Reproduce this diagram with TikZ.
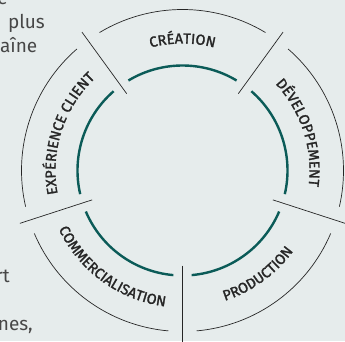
\documentclass[tikz,border=0pt]{standalone}
\usepackage{fontspec}
\setmainfont{Fira Sans}
\newfontfamily\stagefam{Fira Sans}[FakeBold=1.6]
\usetikzlibrary{decorations.text}
\definecolor{bgcol}{HTML}{E6ECEC}
\definecolor{ringcol}{HTML}{0B5B58}
\definecolor{inkcol}{HTML}{262626}
\newcommand{\stagefont}{\stagefam\fontsize{14.5}{16}\selectfont}

\begin{document}
\begin{tikzpicture}[x=1pt,y=1pt,
  ring/.style={ringcol,line width=2.4pt},
  rim/.style={inkcol,line width=0.7pt},
  stagetext/.style={decorate,decoration={text along path,text align=center,text color=inkcol,text={|\stagefont|#1}}},
  bodytext/.style={font=\fontsize{19}{24}\selectfont,text=inkcol!85,inner sep=0pt,anchor=base east}]
\clip (-182.5,-170.5) rectangle (162.5,170.5);
\fill[bgcol] (-182.5,-170.5) rectangle (162.5,170.5);
\node[bodytext] (linea) at (-174.5,166) {e};
\node[bodytext] (lineb) at (-137.5,142) {plus};
\node[bodytext] (linec) at (-145,118) {aîne};
\node[bodytext] (lined) at (-172.5,-111.5) {rt};
\node[bodytext] (linee) at (-149.5,-159.5) {nes,};
\draw[ring] (59:105pt) arc[start angle=59,end angle=121,radius=105pt];
\draw[ring] (131:105pt) arc[start angle=131,end angle=193,radius=105pt];
\draw[ring] (203:105pt) arc[start angle=203,end angle=265,radius=105pt];
\draw[ring] (-85:105pt) arc[start angle=-85,end angle=-23,radius=105pt];
\draw[ring] (-13:105pt) arc[start angle=-13,end angle=49,radius=105pt];
\draw[rim] (59:161pt) arc[start angle=59,end angle=121,radius=161pt];
\draw[rim] (131:161pt) arc[start angle=131,end angle=193,radius=161pt];
\draw[rim] (203:161pt) arc[start angle=203,end angle=265,radius=161pt];
\draw[rim] (-85:161pt) arc[start angle=-85,end angle=-23,radius=161pt];
\draw[rim] (-13:161pt) arc[start angle=-13,end angle=49,radius=161pt];
\draw[rim] (126:95pt) -- (126:171pt);
\draw[rim] (54:95pt) -- (54:171pt);
\draw[rim] (-18:95pt) -- (-18:171pt);
\draw[rim] (-90:95pt) -- (-90:171pt);
\draw[rim] (198:95pt) -- (198:171pt);
\path[stagetext=CRÉATION] (126:127pt) arc[start angle=126,end angle=54,radius=127pt];
\path[stagetext=DÉVELOPPEMENT] (54:127pt) arc[start angle=54,end angle=-18,radius=127pt];
\path[stagetext=PRODUCTION] (-90:137pt) arc[start angle=-90,end angle=-18,radius=137pt];
\path[stagetext=COMMERCIALISATION] (198:137pt) arc[start angle=198,end angle=270,radius=137pt];
\path[stagetext=EXPÉRIENCE CLIENT] (198:127pt) arc[start angle=198,end angle=126,radius=127pt];
\end{tikzpicture}
\end{document}
